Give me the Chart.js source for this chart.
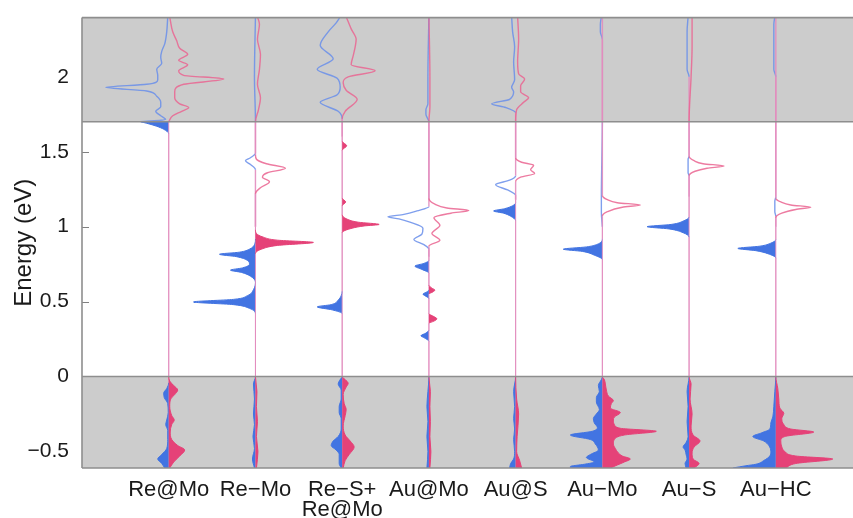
<!DOCTYPE html>
<html>
<head>
<meta charset="utf-8">
<script src="https://cdn.jsdelivr.net/npm/chart.js@4.4.1/dist/chart.umd.min.js"></script>
<style>
  html, body { margin: 0; padding: 0; background: #fff; }
  #wrap { width: 853px; height: 518px; }
</style>
</head>
<body>
<div id="wrap"><canvas id="dos"></canvas></div>
<script>
// defect labels (x axis) and tick values for the energy axis
const categories = ['Re@Mo', 'Re\u2212Mo', ['Re\u2212S+', 'Re@Mo'], 'Au@Mo', 'Au@S', 'Au\u2212Mo', 'Au\u2212S', 'Au\u2212HC'];
const yTicks = [-0.5, 0, 0.5, 1, 1.5, 2];
const energyMin = -0.61;
const energyMax = 2.395;

// band edges (eV): valence band top and conduction band bottom
const vbmEnergy = 0;
const cbmEnergy = 1.7;

// occupation limit of every defect (filled below it)
const fermiLevels = [1.70, 1.00, 1.60, 0.80, 1.18, 1.00, 1.20, 1.00];

// projected DOS, [energy (eV), DOS (arb. units)]
const reAtMoUp = [[-0.61, 0.4], [-0.58, 0.7], [-0.55, 1.1], [-0.52, 0.7], [-0.48, 0.2], [-0.42, 0.1], [-0.36, 0.1], [-0.32, 0.3], [-0.29, 0.2], [-0.24, 0.05], [-0.18, 0.1], [-0.14, 0.45], [-0.11, 0.5], [-0.08, 0.2], [-0.04, 0], [0, 0],
  [1.62, 0], [1.65, 0.5], [1.67, 1.2], [1.69, 2.2], [1.70, 2.8], [1.715, 0.3], [1.74, 0.8], [1.77, 1.3], [1.80, 0.8], [1.83, 0.8], [1.87, 1.2], [1.905, 2.2], [1.93, 6.3], [1.95, 2.2], [1.98, 1.1], [2.01, 1.1], [2.05, 1.2], [2.09, 0.7], [2.13, 0.8], [2.17, 0.7], [2.22, 0.4], [2.3, 0.2], [2.4, 0.1]];
const reAtMoDown = [[-0.61, 0.1], [-0.57, 0.5], [-0.53, 1.1], [-0.49, 1.6], [-0.46, 0.9], [-0.42, 0.3], [-0.37, 0.15], [-0.32, 0.3], [-0.29, 0.55], [-0.26, 0.3], [-0.2, 0.1], [-0.15, 0.2], [-0.12, 0.6], [-0.09, 0.9], [-0.06, 0.5], [-0.03, 0.1], [0, 0],
  [1.70, 0], [1.74, 0.4], [1.77, 1.3], [1.795, 2.0], [1.82, 1.1], [1.86, 0.6], [1.90, 0.6], [1.95, 1.5], [1.985, 5.5], [2.01, 1.5], [2.04, 1.0], [2.08, 1.9], [2.11, 1.0], [2.15, 1.9], [2.19, 1.1], [2.24, 0.8], [2.3, 0.4], [2.4, 0.1]];

const reMoUp = [[-0.61, 0.1], [-0.55, 0.3], [-0.48, 0.1], [-0.4, 0.25], [-0.32, 0.1], [-0.25, 0.2], [-0.15, 0.1], [-0.05, 0.2], [0, 0],
  [0.42, 0], [0.455, 0.6], [0.48, 2.2], [0.498, 6.2], [0.515, 2.2], [0.54, 0.8], [0.58, 0.2], [0.63, 0], [0.67, 0.5], [0.695, 1.4], [0.71, 2.5], [0.725, 1.3], [0.75, 0.6], [0.775, 0.8], [0.80, 1.9], [0.816, 3.6], [0.83, 1.6], [0.85, 0.6], [0.88, 0.1], [0.92, 0], [1.0, 0],
  [1.38, 0], [1.415, 0.5], [1.44, 1.0], [1.46, 0.5], [1.49, 0], [1.7, 0], [2.0, 0.1], [2.4, 0]];
const reMoDown = [[-0.61, 0.1], [-0.5, 0.25], [-0.4, 0.1], [-0.3, 0.2], [-0.2, 0.1], [-0.1, 0.15], [0, 0],
  [0.82, 0], [0.85, 0.6], [0.875, 2.2], [0.895, 5.8], [0.91, 2.2], [0.93, 0.8], [0.955, 0.1], [0.98, 0], [1.0, 0],
  [1.22, 0], [1.26, 0.5], [1.30, 1.4], [1.33, 0.7], [1.36, 1.2], [1.39, 3.0], [1.42, 1.1], [1.45, 0.1], [1.48, 0], [1.7, 0], [1.78, 0.3], [1.86, 0.5], [1.95, 0.2], [2.05, 0.4], [2.15, 0.5], [2.25, 0.2], [2.35, 0.4], [2.4, 0.2]];

const reSUp = [[-0.61, 0.1], [-0.58, 0.3], [-0.55, 0.3], [-0.52, 0.3], [-0.49, 0.6], [-0.46, 1.1], [-0.43, 0.9], [-0.40, 0.4], [-0.35, 0.1], [-0.28, 0.1], [-0.24, 0.3], [-0.20, 0.3], [-0.15, 0.1], [-0.09, 0.1], [-0.05, 0.4], [-0.02, 0.2], [0, 0],
  [0.42, 0], [0.445, 1.0], [0.465, 2.5], [0.48, 1.1], [0.51, 0.4], [0.54, 0.1], [0.57, 0], [1.6, 0],
  [1.72, 0], [1.77, 0.4], [1.83, 2.2], [1.88, 0.5], [1.93, 0.2], [1.99, 0.5], [2.05, 2.5], [2.12, 0.9], [2.21, 2.2], [2.3, 1.4], [2.36, 0.6], [2.4, 0.2]];
const reSDown = [[-0.61, 0.1], [-0.56, 0.3], [-0.52, 0.7], [-0.47, 1.2], [-0.43, 0.8], [-0.39, 0.3], [-0.33, 0.1], [-0.26, 0.3], [-0.22, 0.4], [-0.18, 0.2], [-0.12, 0.1], [-0.07, 0.4], [-0.045, 0.6], [-0.02, 0.3], [0, 0],
  [0.96, 0], [0.99, 1.0], [1.005, 2.2], [1.015, 3.7], [1.03, 1.6], [1.05, 0.5], [1.08, 0], [1.14, 0], [1.165, 0.35], [1.19, 0], [1.51, 0], [1.54, 0.45], [1.57, 0], [1.6, 0],
  [1.72, 0], [1.77, 0.3], [1.85, 1.5], [1.91, 0.4], [1.96, 0.1], [2.0, 0.6], [2.04, 3.3], [2.08, 0.9], [2.14, 1.1], [2.2, 1.3], [2.25, 1.4], [2.32, 0.9], [2.4, 0.4]];

const auAtMoUp = [[-0.61, 0.2], [-0.5, 0.1], [-0.4, 0.2], [-0.3, 0.1], [-0.2, 0.2], [-0.1, 0.1], [0, 0],
  [0.235, 0], [0.26, 0.5], [0.272, 0.8], [0.29, 0.3], [0.31, 0], [0.52, 0], [0.54, 0.4], [0.55, 0.6], [0.565, 0.2], [0.58, 0], [0.69, 0], [0.715, 0.7], [0.737, 1.4], [0.755, 0.5], [0.775, 0], [0.8, 0],
  [0.85, 0], [0.88, 0.5], [0.915, 1.5], [0.95, 0.7], [0.99, 0.6], [1.03, 1.9], [1.052, 3.0], [1.066, 4.1], [1.082, 2.5], [1.105, 1.2], [1.135, 0], [1.7, 0], [1.75, 0.3], [1.78, 0.3], [1.82, 0.1], [2.0, 0.1], [2.4, 0]];
const auAtMoDown = [[-0.61, 0.1], [-0.5, 0.2], [-0.4, 0.1], [-0.3, 0.15], [-0.2, 0.1], [-0.1, 0.15], [0, 0],
  [0.355, 0], [0.37, 0.5], [0.385, 0.8], [0.40, 0.5], [0.42, 0], [0.55, 0], [0.565, 0.4], [0.577, 0.6], [0.59, 0.3], [0.61, 0], [0.8, 0],
  [0.87, 0], [0.91, 1.1], [0.955, 0.3], [1.01, 1.1], [1.06, 0.5], [1.09, 2.2], [1.108, 4.0], [1.125, 1.8], [1.15, 0.6], [1.19, 0], [1.7, 0], [1.8, 0.1], [2.0, 0.1], [2.4, 0]];

const auAtSUp = [[-0.61, 0.6], [-0.58, 0.5], [-0.55, 0.2], [-0.5, 0.1], [-0.42, 0.2], [-0.35, 0.1], [-0.28, 0.2], [-0.2, 0.1], [-0.1, 0.2], [0, 0],
  [1.04, 0], [1.07, 0.5], [1.09, 1.2], [1.105, 2.2], [1.12, 1.1], [1.14, 0.3], [1.16, 0], [1.18, 0],
  [1.21, 0], [1.245, 0.8], [1.28, 2.0], [1.31, 0.6], [1.34, 0], [1.7, 0], [1.76, 0], [1.795, 1.0], [1.82, 2.4], [1.85, 0.6], [1.9, 0.2], [1.93, 0.4], [1.98, 0.1], [2.1, 0.2], [2.2, 0.1], [2.3, 0.3], [2.4, 0.4]];
const auAtSDown = [[-0.61, 0.6], [-0.56, 0.4], [-0.5, 0.1], [-0.4, 0.15], [-0.25, 0.3], [-0.15, 0.1], [0, 0], [1.18, 0],
  [1.3, 0], [1.33, 0.5], [1.355, 1.9], [1.38, 1.5], [1.41, 1.8], [1.43, 0.6], [1.46, 0], [1.7, 0], [1.78, 0.1], [1.83, 0.8], [1.86, 1.3], [1.9, 0.5], [1.94, 0.5], [1.985, 0.9], [2.02, 0.3], [2.1, 0.2], [2.25, 0.3], [2.4, 0.2]];

const auMoUp = [[-0.61, 3.2], [-0.6, 3.2], [-0.585, 1.8], [-0.57, 0.8], [-0.54, 1.6], [-0.52, 1.2], [-0.49, 0.4], [-0.45, 0.7], [-0.42, 1.2], [-0.39, 3.2], [-0.365, 1.0], [-0.34, 0.5], [-0.31, 0.8], [-0.28, 0.9], [-0.25, 0.6], [-0.22, 0.3], [-0.17, 0.6], [-0.14, 0.6], [-0.1, 0.3], [-0.06, 0.4], [-0.02, 0.1], [0, 0],
  [0.78, 0], [0.81, 0.8], [0.835, 2.0], [0.85, 3.9], [0.865, 1.6], [0.88, 0.6], [0.9, 0.1], [0.92, 0], [1.0, 0],
  [1.1, 0.1], [1.2, 0.1], [1.7, 0], [2.25, 0], [2.3, 0.2], [2.35, 0.2], [2.4, 0.1]];
const auMoDown = [[-0.61, 0.8], [-0.59, 1.5], [-0.57, 2.2], [-0.55, 2.8], [-0.53, 2.0], [-0.51, 1.6], [-0.48, 1.3], [-0.45, 1.1], [-0.42, 1.2], [-0.39, 2.2], [-0.365, 5.4], [-0.345, 1.8], [-0.32, 1.2], [-0.29, 1.1], [-0.27, 1.2], [-0.24, 1.8], [-0.21, 0.8], [-0.18, 0.9], [-0.16, 1.1], [-0.13, 0.6], [-0.09, 0.4], [-0.05, 0.3], [-0.02, 0.2], [0, 0],
  [1.0, 0], [1.07, 0], [1.1, 0.5], [1.13, 2.0], [1.145, 3.8], [1.16, 1.5], [1.18, 0.5], [1.21, 0], [1.7, 0], [2.4, 0]];

const auSUp = [[-0.61, 0.3], [-0.58, 0.4], [-0.55, 0.2], [-0.52, 0.3], [-0.49, 0.4], [-0.47, 0.6], [-0.44, 0.3], [-0.4, 0.1], [-0.3, 0.2], [-0.2, 0.1], [-0.1, 0.2], [0, 0],
  [0.93, 0], [0.96, 0.6], [0.985, 2.0], [1.0, 4.2], [1.015, 1.8], [1.04, 0.5], [1.065, 0], [1.2, 0],
  [1.34, 0], [1.36, 0.1], [1.45, 0.1], [1.47, 0], [1.7, 0], [2.0, 0], [2.05, 0.2], [2.3, 0.2], [2.4, 0.1]];
const auSDown = [[-0.61, 0.5], [-0.58, 1.0], [-0.55, 0.4], [-0.51, 0.3], [-0.47, 0.5], [-0.43, 1.1], [-0.39, 0.4], [-0.33, 0.2], [-0.25, 0.3], [-0.15, 0.1], [-0.05, 0.2], [0, 0], [1.2, 0],
  [1.34, 0], [1.37, 0.6], [1.39, 1.8], [1.405, 3.5], [1.42, 1.4], [1.44, 0.5], [1.47, 0], [1.7, 0], [2.0, 0.2], [2.2, 0.3], [2.4, 0.3]];

const auHCUp = [[-0.61, 4.3], [-0.595, 3.0], [-0.585, 2.0], [-0.56, 1.2], [-0.53, 0.6], [-0.5, 0.5], [-0.46, 0.7], [-0.43, 1.2], [-0.40, 2.3], [-0.375, 1.4], [-0.35, 0.6], [-0.31, 0.5], [-0.27, 0.3], [-0.2, 0.2], [-0.1, 0.1], [0, 0],
  [0.79, 0], [0.82, 0.8], [0.84, 2.0], [0.855, 3.8], [0.87, 1.6], [0.89, 0.5], [0.915, 0], [1.0, 0],
  [1.07, 0], [1.1, 0.1], [1.17, 0.1], [1.2, 0], [1.7, 0], [2.0, 0], [2.05, 0.2], [2.35, 0.2], [2.4, 0.1]];
const auHCDown = [[-0.61, 1.0], [-0.58, 2.0], [-0.55, 5.7], [-0.53, 2.0], [-0.5, 0.9], [-0.47, 0.6], [-0.43, 0.5], [-0.4, 0.9], [-0.37, 3.8], [-0.35, 1.5], [-0.32, 0.8], [-0.28, 0.6], [-0.245, 0.8], [-0.21, 0.4], [-0.15, 0.3], [-0.08, 0.2], [0, 0],
  [1.0, 0], [1.06, 0], [1.09, 0.6], [1.115, 2.0], [1.13, 3.5], [1.145, 1.5], [1.165, 0.5], [1.19, 0], [1.7, 0], [2.4, 0]];

const spinUp = [reAtMoUp, reMoUp, reSUp, auAtMoUp, auAtSUp, auMoUp, auSUp, auHCUp];
const spinDown = [reAtMoDown, reMoDown, reSDown, auAtMoDown, auAtSDown, auMoDown, auSDown, auHCDown];

// width of one DOS unit, in category widths
const dosScale = 0.1152;

const blueFill = 'rgb(66,116,226)';
const pinkFill = 'rgb(229,66,120)';
const blueLine = 'rgba(104,142,234,0.85)';
const pinkLine = 'rgba(234,100,144,0.85)';
const baseColor = 'rgba(226,140,190,0.9)';

let datasets = [];

function addSpin(points, base, sign, fillColor, lineColor, ef) {
    // occupied states filled, empty states drawn as a thin line
    let occupied = points.filter(p => p[0] <= ef);
    let empty = points.filter(p => p[0] >= ef);
    [[occupied, true], [empty, false]].forEach(([pts, filled]) => {
        if (pts.length < 2) return;
        datasets.push({
            indexAxis: 'y',
            data: pts.map(p => ({x: base + sign * p[1] * dosScale, y: p[0]})),
            borderColor: filled ? fillColor : lineColor,
            backgroundColor: fillColor,
            borderWidth: filled ? 1 : 1.4,
            pointRadius: 0,
            cubicInterpolationMode: 'monotone',
            fill: filled ? {value: base} : false,
            segment: {
                borderColor: c => (c.p0.parsed.x === base && c.p1.parsed.x === base) ? baseColor : undefined
            }
        });
    });
}

// pink (spin down) first so it is drawn on top
categories.forEach((c, i) => addSpin(spinDown[i], i + 1, 1, pinkFill, pinkLine, fermiLevels[i]));
categories.forEach((c, i) => addSpin(spinUp[i], i + 1, -1, blueFill, blueLine, fermiLevels[i]));

const frame = {
    id: 'frame',
    beforeDraw(chart) {
        let ctx = chart.ctx;
        ctx.save();
        ctx.fillStyle = '#fff';
        ctx.fillRect(0, 0, chart.width, chart.height);
        ctx.restore();
    },
    beforeDatasetsDraw(chart) {
        let {ctx, chartArea: a, scales: {y}} = chart;
        ctx.save();
        // inward ticks, hidden by the band shading where they overlap
        ctx.strokeStyle = '#808080';
        ctx.lineWidth = 1;
        yTicks.forEach(v => {
            let py = Math.round(y.getPixelForValue(v)) + 0.5;
            ctx.beginPath();
            ctx.moveTo(a.left, py);
            ctx.lineTo(a.left + 7, py);
            ctx.stroke();
        });
        ctx.fillStyle = '#cccccc';
        [[energyMin, vbmEnergy], [cbmEnergy, energyMax]].forEach(([lo, hi]) => {
            let top = y.getPixelForValue(hi), bot = y.getPixelForValue(lo);
            ctx.fillRect(a.left, top, a.right - a.left, bot - top);
        });
        ctx.restore();
    },
    afterDatasetsDraw(chart) {
        let {ctx, chartArea: a, scales: {y}} = chart;
        ctx.save();
        ctx.strokeStyle = '#8e8e8e';
        ctx.lineWidth = 1.6;
        [a.top, y.getPixelForValue(cbmEnergy), y.getPixelForValue(vbmEnergy), a.bottom].forEach(py => {
            ctx.beginPath();
            ctx.moveTo(a.left, py);
            ctx.lineTo(a.right, py);
            ctx.stroke();
        });
        ctx.beginPath();
        ctx.moveTo(a.left, a.top);
        ctx.lineTo(a.left, a.bottom);
        ctx.stroke();
        ctx.restore();
    }
};

Chart.defaults.font.family = '"Liberation Sans", Arial, sans-serif';
Chart.defaults.color = '#1a1a1a';

new Chart(document.getElementById('dos'), {
    type: 'line',
    data: {datasets: datasets},
    options: {
        indexAxis: 'y',
        responsive: true,
        maintainAspectRatio: false,
        devicePixelRatio: 1,
        animation: false,
        layout: {padding: {top: 15, right: 0, left: 0, bottom: 0}},
        plugins: {legend: {display: false}, tooltip: {enabled: false}},
        scales: {
            x: {
                type: 'linear',
                min: 0,
                max: 8.89,
                grid: {display: false},
                border: {display: false},
                afterBuildTicks: s => { s.ticks = categories.map((c, i) => ({value: i + 1})); },
                afterFit: s => { s.height = 50; },
                ticks: {
                    autoSkip: false,
                    maxRotation: 0,
                    padding: 4,
                    font: {size: 22, lineHeight: 0.9},
                    callback: v => categories[v - 1]
                }
            },
            y: {
                type: 'linear',
                min: energyMin,
                max: energyMax,
                grid: {display: false},
                border: {display: false},
                afterBuildTicks: s => { s.ticks = yTicks.map(v => ({value: v})); },
                afterFit: s => { s.width = 82; },
                ticks: {
                    padding: 5,
                    font: {size: 21},
                    callback: v => v < 0 ? '\u2212' + Math.abs(v) : String(v)
                },
                title: {
                    display: true,
                    text: 'Energy (eV)',
                    font: {size: 24},
                    padding: {top: 10, bottom: 0}
                }
            }
        }
    },
    plugins: [frame]
});
</script>
</body>
</html>
